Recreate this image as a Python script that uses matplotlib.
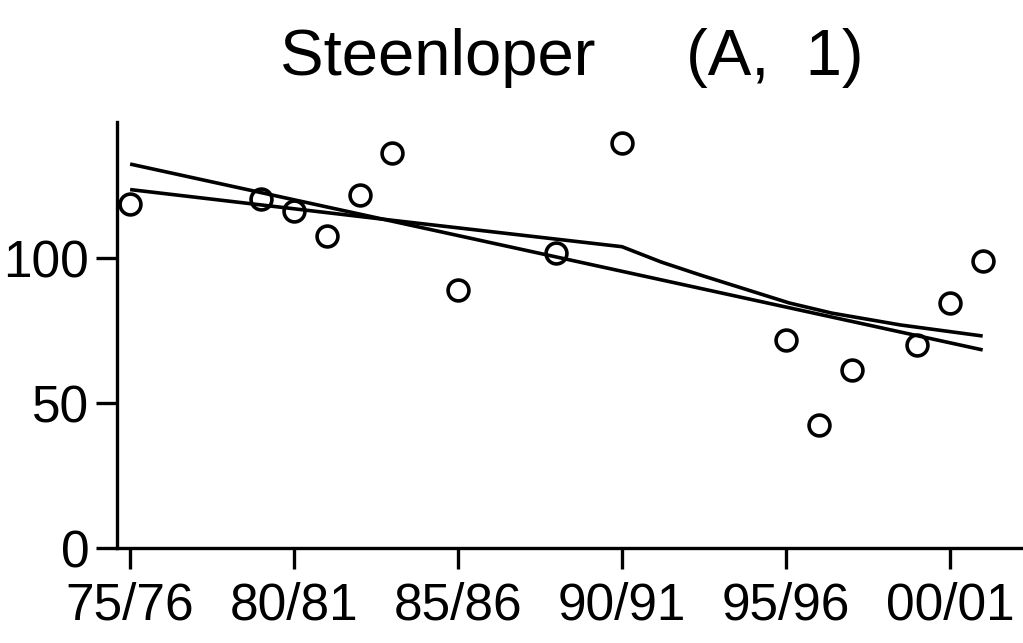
import matplotlib
matplotlib.use("Agg")
import matplotlib.pyplot as plt

# Data
years = [1975, 1979, 1980, 1981, 1982, 1983, 1985, 1988, 1990, 1995, 1996, 1997, 1999, 2000, 2001]
values = [118.6, 120.3, 116.2, 107.6, 121.7, 136.2, 89.0, 101.7, 139.7, 71.7, 42.4, 61.4, 70.0, 84.5, 99.0]

trend_years = [1975, 2001]
trend_values = [132.4, 68.3]

smooth_years = [1975, 1979, 1983, 1987, 1990, 1991.2, 1992.4, 1995.1, 1996.4, 1998.5, 2001]
smooth_values = [123.6, 118.3, 113.0, 107.8, 103.9, 98.6, 94.1, 84.5, 81.0, 76.9, 73.1]

tick_years = [1975, 1980, 1985, 1990, 1995, 2000]
tick_labels = ["75/76", "80/81", "85/86", "90/91", "95/96", "00/01"]
ytick_vals = [0, 50, 100]
ytick_labels = ["0", "50", "100"]

FONT = ["Liberation Sans", "DejaVu Sans"]
plt.rcParams["font.family"] = FONT

fig = plt.figure(figsize=(10.23, 6.43), dpi=100)
ax = fig.add_axes([117 / 1023, 95 / 643, (1023 - 117) / 1023, (548 - 122) / 643])

ax.plot(trend_years, trend_values, color="black", lw=2.6, solid_capstyle="butt")
ax.plot(smooth_years, smooth_values, color="black", lw=2.6, solid_capstyle="butt")
ax.plot(years, values, linestyle="none", marker="o", markersize=15, markerfacecolor="none",
        markeredgecolor="black", markeredgewidth=2.6)

ax.set_xlim(1974.6, 2002.23)
ax.set_ylim(0, 146.9)
ax.set_xticks(tick_years)
ax.set_xticklabels(tick_labels)
ax.set_yticks(ytick_vals)
ax.set_yticklabels(ytick_labels)

for s in ["top", "right"]:
    ax.spines[s].set_visible(False)
for s in ["left", "bottom"]:
    ax.spines[s].set_linewidth(2.4)

ax.tick_params(axis="both", direction="out", length=15, width=2.4, labelsize=37)
ax.tick_params(axis="x", pad=9)
ax.tick_params(axis="y", pad=5)

fig.text(280 / 1023, 1 - 75 / 643, "Steenloper     (A,  1)", ha="left", va="baseline", fontsize=47)

fig.savefig("out.png", dpi=100)
